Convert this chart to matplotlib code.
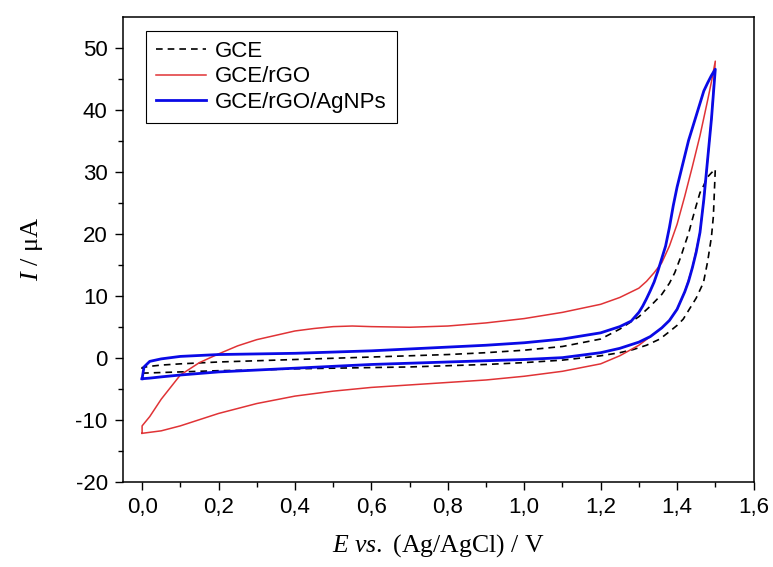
import matplotlib
matplotlib.use("Agg")
import matplotlib.pyplot as plt

# Cyclic voltammograms: each curve is a closed loop (forward sweep then return sweep)
gce_E = [0.00, 0.05, 0.10, 0.20, 0.30, 0.40, 0.50, 0.60, 0.70, 0.80, 0.90, 1.00, 1.10,
         1.20, 1.25, 1.285, 1.32, 1.355, 1.38, 1.40, 1.416, 1.43, 1.45, 1.469, 1.48,
         1.49, 1.495, 1.50,
         1.50, 1.49, 1.478, 1.47, 1.46, 1.45, 1.44, 1.43, 1.42, 1.41, 1.394, 1.38,
         1.36, 1.33, 1.30, 1.25, 1.20, 1.10, 1.00, 0.90,
         0.80, 0.70, 0.60, 0.50, 0.40, 0.30, 0.20, 0.10, 0.05, 0.02, 0.00, 0.00]
gce_I = [-2.5, -2.4, -2.3, -2.1, -2.0, -1.8, -1.7, -1.6, -1.5, -1.3, -1.1, -0.8, -0.4,
         0.3, 0.8, 1.3, 2.0, 3.0, 4.2, 5.2, 6.2, 7.6, 9.6, 12.1, 15.5,
         19.5, 22.8, 30.4,
         30.4, 29.8, 29.0, 27.8, 26.6, 24.5, 22.3, 20.0, 18.2, 16.3, 13.7, 12.0,
         10.2, 8.3, 6.6, 4.6, 3.0, 1.8, 1.2, 0.8,
         0.5, 0.3, 0.1, -0.1, -0.3, -0.5, -0.7, -1.0, -1.2, -1.4, -1.6, -2.5]

rgo_E = [0.00, 0.05, 0.10, 0.15, 0.20, 0.25, 0.30, 0.35, 0.40, 0.50, 0.60, 0.70, 0.80,
         0.90, 1.00, 1.10, 1.20, 1.25, 1.30, 1.33, 1.36, 1.38, 1.40, 1.42, 1.44, 1.46,
         1.47, 1.48, 1.49, 1.50,
         1.50, 1.49, 1.48, 1.46, 1.44, 1.42, 1.40, 1.38, 1.36, 1.34, 1.32, 1.30, 1.25,
         1.20, 1.10, 1.00, 0.90, 0.80, 0.70, 0.60, 0.55, 0.50, 0.45, 0.40, 0.35, 0.30,
         0.25, 0.20, 0.15, 0.10, 0.05, 0.02, 0.00, 0.00]
rgo_I = [-12.2, -11.8, -11.0, -10.0, -9.0, -8.2, -7.4, -6.8, -6.2, -5.4, -4.8, -4.4, -4.0,
         -3.6, -3.0, -2.2, -1.0, 0.3, 2.0, 3.4, 4.8, 6.0, 7.8, 10.6, 14.5, 20.2,
         25.5, 32.0, 38.5, 47.8,
         47.8, 44.5, 41.5, 35.8, 30.8, 26.0, 21.5, 18.0, 15.3, 13.7, 12.3, 11.2, 9.7,
         8.6, 7.3, 6.3, 5.6, 5.1, 4.9, 5.0, 5.1, 5.0, 4.7, 4.3, 3.6, 2.9,
         1.9, 0.6, -0.8, -2.8, -6.7, -9.5, -11.0, -12.2]

ag_E = [0.00, 0.02, 0.05, 0.10, 0.20, 0.30, 0.40, 0.50, 0.60, 0.70, 0.80, 0.90, 1.00,
        1.10, 1.20, 1.25, 1.30, 1.33, 1.36, 1.38, 1.40, 1.42, 1.43, 1.44, 1.45, 1.46,
        1.47, 1.48, 1.49, 1.50,
        1.50, 1.49, 1.48, 1.47, 1.46, 1.45, 1.44, 1.43, 1.42, 1.41, 1.40, 1.39, 1.38,
        1.37, 1.36, 1.35, 1.34, 1.33, 1.32, 1.31, 1.30, 1.28, 1.25, 1.20, 1.10, 1.00,
        0.90, 0.80, 0.70, 0.60, 0.50, 0.40, 0.30, 0.20, 0.10, 0.05, 0.02, 0.005, 0.00]
ag_I = [-3.4, -3.3, -3.1, -2.8, -2.3, -2.0, -1.7, -1.4, -1.1, -0.9, -0.7, -0.5, -0.3,
        0.0, 0.8, 1.5, 2.5, 3.4, 4.8, 6.0, 7.8, 10.6, 12.3, 14.5, 17.0, 20.2,
        25.5, 32.0, 38.5, 46.5,
        46.5, 45.5, 44.3, 43.0, 41.0, 39.0, 37.0, 35.0, 32.5, 30.0, 27.5, 24.5, 21.0,
        18.0, 16.0, 14.0, 12.2, 10.8, 9.5, 8.3, 7.3, 5.9, 5.0, 4.0, 3.0, 2.4,
        2.0, 1.7, 1.4, 1.1, 0.9, 0.7, 0.6, 0.5, 0.2, -0.2, -0.6, -1.5, -3.4]

x_ticks = [0.0, 0.2, 0.4, 0.6, 0.8, 1.0, 1.2, 1.4, 1.6]
y_ticks = [-20, -10, 0, 10, 20, 30, 40, 50]

plt.rcParams["font.family"] = ["Liberation Sans", "DejaVu Sans"]
plt.rcParams["mathtext.fontset"] = "custom"
plt.rcParams["mathtext.it"] = "Liberation Serif:italic"
plt.rcParams["mathtext.rm"] = "Liberation Serif"

fig = plt.figure(figsize=(7.73, 5.67), dpi=100)
ax = fig.add_axes([123 / 773, 1 - 481.7 / 567, 630.5 / 773, 465.2 / 567])

ax.plot(gce_E, gce_I, color="black", lw=1.2, ls=(0, (4, 3)), label="GCE")
ax.plot(rgo_E, rgo_I, color="#e03336", lw=1.1, label="GCE/rGO")
ax.plot(ag_E, ag_I, color="#0a0ae6", lw=2.0, label="GCE/rGO/AgNPs")

ax.set_xlim(-0.05, 1.6)
ax.set_ylim(-20, 55)
ax.set_xticks(x_ticks)
ax.set_xticklabels([f"{v:.1f}".replace(".", ",") for v in x_ticks])
ax.set_yticks(y_ticks)
ax.set_yticklabels([str(v) for v in y_ticks])
ax.set_xticks([v + 0.1 for v in x_ticks[:-1]], minor=True)
ax.set_yticks([v + 5 for v in y_ticks[:-1]], minor=True)

ax.tick_params(which="major", direction="out", length=6, width=1.0, labelsize=16,
               top=False, right=False, pad=5)
ax.tick_params(which="minor", direction="out", length=3.5, width=1.0,
               top=False, right=False)
for s in ax.spines.values():
    s.set_linewidth(1.1)

serif = ["Liberation Serif", "DejaVu Serif"]
ax.set_xlabel(r"$E$ $vs.$ (Ag/AgCl) / V", fontsize=18.5, family=serif, labelpad=10)
ax.set_ylabel(r"$I$ / μA", fontsize=19, family=serif, labelpad=22)

leg = ax.legend(loc="upper left", bbox_to_anchor=(0.0365, 0.969), borderaxespad=0,
                fontsize=16, handlelength=2.25, handletextpad=0.4, labelspacing=0.2,
                borderpad=0.45, fancybox=False, framealpha=1, edgecolor="black")
leg.get_frame().set_linewidth(0.8)

fig.savefig("out.png", dpi=100)
